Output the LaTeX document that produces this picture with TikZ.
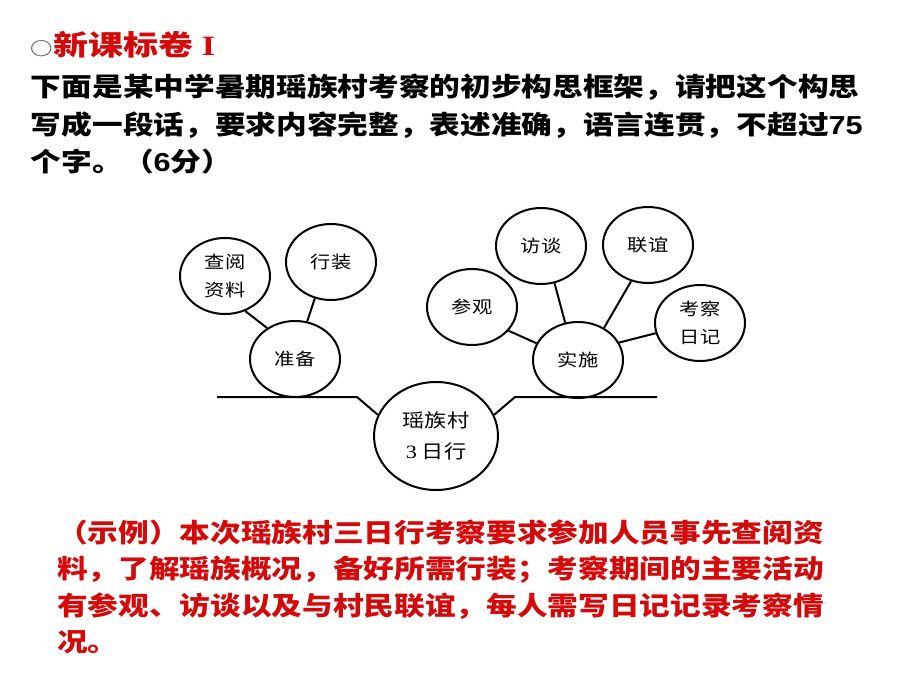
\documentclass[tikz,border=0pt]{standalone}
\usepackage{fontspec}
\usepackage{graphicx}
\setmainfont{Liberation Sans}
\newfontfamily\cjk{Noto Sans CJK SC}
\newfontfamily\tnr{Liberation Serif}
\usetikzlibrary{shapes.geometric}
\definecolor{ansred}{RGB}{212,10,10}
\definecolor{ringgray}{RGB}{90,90,90}
\newcommand{\stretchx}[2][1.18]{\scalebox{#1}[1]{#2}}

\begin{document}
\begin{tikzpicture}[x=0.5pt, y=-0.5pt, line width=1pt,
bubble/.style={ellipse, draw, line width=1pt, inner sep=0pt, minimum width=45pt, minimum height=38pt, align=center, font=\cjk\fontsize{8.6}{14}\selectfont},
trunkbubble/.style={bubble, minimum width=62pt, minimum height=54pt, font=\cjk\fontsize{9.4}{15.5}\selectfont},
task/.style={anchor=base west, inner sep=0pt, font=\cjk\bfseries\fontsize{13}{13}\selectfont},
answer/.style={task, text=ansred, font=\cjk\bfseries\fontsize{13}{13}\selectfont}]
\useasboundingbox (0,0) rectangle (920,690);

% question
\node [task, text=ansred, font=\cjk\bfseries\fontsize{14}{14}\selectfont] (title) at (30,56) {{\color{ringgray}\fontsize{9}{9}\selectfont\stretchx[1.25]{○}}\stretchx[1.25]{新课标卷 {\tnr\bfseries I}}};
\node [task] (q1) at (30,97) {\stretchx{下面是某中学暑期瑶族村考察的初步构思框架，请把这个构思}};
\node [task] (q2) at (30,134) {\stretchx{写成一段话，要求内容完整，表述准确，语言连贯，不超过{\rmfamily\bfseries 75}}};
\node [task] (q3) at (30,171) {\stretchx{个字。（{\rmfamily\bfseries 6}分）}};

% bubbles
\node [trunkbubble] (trunk) at (436,436) {\stretchx{瑶族村}\\\stretchx{{\tnr 3} 日行}};
\node [bubble] (zhun) at (295,359) {\stretchx{准备}};
\node [bubble] (cha) at (225,276) {\stretchx{查阅}\\\stretchx{资料}};
\node [bubble] (xing) at (331,262) {\stretchx{行装}};
\node [bubble] (shi) at (578,360) {\stretchx{实施}};
\node [bubble] (can) at (472,307) {\stretchx{参观}};
\node [bubble] (fang) at (541,246) {\stretchx{访谈}};
\node [bubble] (lian) at (648,245) {\stretchx{联谊}};
\node [bubble] (kao) at (700,323) {\stretchx{考察}\\\stretchx{日记}};

% ground line
\coordinate (lend) at (217,397);
\coordinate (lbend) at (357,397);
\coordinate (rbend) at (515,397);
\coordinate (rend) at (657,397);
\draw (lend) -- (lbend) -- (trunk.160);
\draw (trunk.20) -- (rbend) -- (rend);

% branches
\draw (cha.-60) -- (zhun.132);
\draw (xing.-114) -- (zhun.72);
\draw (can.-33) -- (shi.158);
\draw (fang.-70) -- (shi.109);
\draw (lian.-115) -- (shi.51);
\draw (kao.193) -- (shi.23);

% answer
\node [answer] (a1) at (56,542) {\stretchx{（示例）本次瑶族村三日行考察要求参加人员事先查阅资}};
\node [answer] (a2) at (56,578.5) {\stretchx{料，了解瑶族概况，备好所需行装；考察期间的主要活动}};
\node [answer] (a3) at (56,615) {\stretchx{有参观、访谈以及与村民联谊，每人需写日记记录考察情}};
\node [answer] (a4) at (56,651.5) {\stretchx{况。}};
\end{tikzpicture}
\end{document}
